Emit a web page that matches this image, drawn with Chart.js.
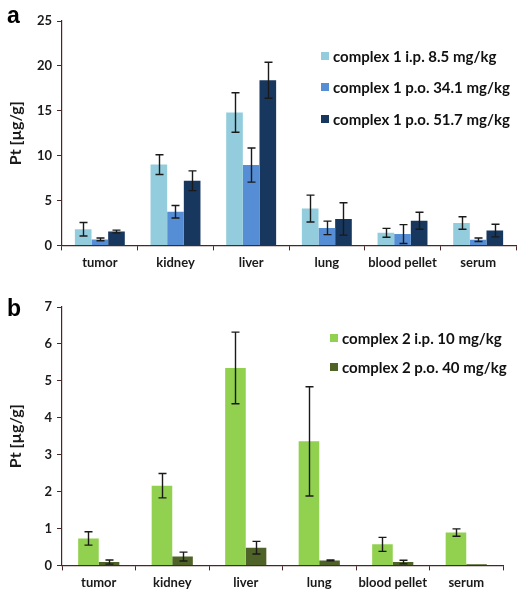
<!DOCTYPE html>
<html>
<head>
<meta charset="utf-8">
<script src="https://cdn.jsdelivr.net/npm/chart.js@4.4.0/dist/chart.umd.min.js"></script>
<style>
  body { margin: 0; background: #fff; }
  #wrap { position: relative; width: 522px; height: 600px; font-family: Lato, sans-serif; }
  canvas { position: absolute; left: 0; }
  .panel { position: absolute; font-family: "Liberation Sans", Arial, sans-serif; font-weight: bold; font-size: 23px; line-height: 23px; color: #000; }
  .leg { position: absolute; display: flex; align-items: center; height: 16px; font-weight: bold; font-size: 15px; color: #111; white-space: nowrap; }
  .leg span.box { display: inline-block; width: 8px; height: 8px; margin-right: 4px; }
</style>
</head>
<body>
<div id="wrap">
  <canvas id="chartA" width="522" height="300" style="top:0"></canvas>
  <canvas id="chartB" width="522" height="300" style="top:300px"></canvas>
  <div class="panel" style="left:7px; top:4px">a</div>
  <div class="panel" style="left:7px; top:297px">b</div>
  <div id="legendA"></div>
  <div id="legendB"></div>
</div>
<script>
const categories = ['tumor', 'kidney', 'liver', 'lung', 'blood pellet', 'serum'];

// panel a, complex 1
const c1ip = [1.8, 9.0, 14.8, 4.1, 1.4, 2.5];
const c1ipErr = [0.75, 1.1, 2.2, 1.5, 0.5, 0.7];
const c1po34 = [0.67, 3.75, 8.95, 1.95, 1.27, 0.63];
const c1po34Err = [0.15, 0.7, 1.9, 0.75, 1.05, 0.2];
const c1po51 = [1.55, 7.2, 18.4, 2.95, 2.75, 1.65];
const c1po51Err = [0.15, 1.1, 2.0, 1.8, 0.95, 0.7];

// panel b, complex 2
const c2ip = [0.73, 2.16, 5.35, 3.36, 0.57, 0.89];
const c2ipErr = [0.18, 0.33, 0.97, 1.48, 0.19, 0.1];
const c2po = [0.09, 0.24, 0.48, 0.135, 0.09, 0.03];
const c2poErr = [0.055, 0.12, 0.17, 0.01, 0.05, 0];

const axisColor = '#4a2626';
const tickFont = { family: 'Lato', size: 13, weight: 'bold' };

// draws the +/- error bars over every bar
const errorBars = {
    id: 'errorBars',
    afterDatasetsDraw(chart) {
        const ctx = chart.ctx;
        const y = chart.scales.y;
        ctx.save();
        ctx.strokeStyle = '#1a1a1a';
        ctx.lineWidth = 1.4;
        chart.data.datasets.forEach((ds, i) => {
            const meta = chart.getDatasetMeta(i);
            meta.data.forEach((bar, j) => {
                const v = ds.data[j];
                const e = ds.errors[j];
                if (!e) return;
                const top = y.getPixelForValue(v + e);
                const bot = y.getPixelForValue(v - e);
                const x = Math.round(bar.x) + 0.5;
                ctx.beginPath();
                ctx.moveTo(x, top); ctx.lineTo(x, bot);
                ctx.moveTo(x - 4, top); ctx.lineTo(x + 4, top);
                ctx.moveTo(x - 4, bot); ctx.lineTo(x + 4, bot);
                ctx.stroke();
            });
        });
        ctx.restore();
    }
};

function makeChart(id, datasets, max, catPct, padding) {
    new Chart(document.getElementById(id), {
        type: 'bar',
        data: { labels: categories, datasets: datasets },
        options: {
            responsive: false,
            animation: false,
            layout: { padding: padding },
            datasets: { bar: { barPercentage: 1, categoryPercentage: catPct } },
            plugins: { legend: { display: false }, tooltip: { enabled: false } },
            scales: {
                x: {
                    afterFit(scale) { scale.paddingLeft = 0; scale.paddingRight = 0; },
                    grid: { drawOnChartArea: false, color: axisColor, tickLength: 5 },
                    border: { color: axisColor, width: 1.2 },
                    ticks: { color: '#1a1a1a', font: tickFont, padding: 5, maxRotation: 0, autoSkip: false }
                },
                y: {
                    min: 0,
                    max: max,
                    afterFit(scale) { scale.width = 62; scale.paddingTop = 0; scale.paddingBottom = 0; },
                    grid: { drawOnChartArea: false, color: axisColor, tickLength: 5 },
                    border: { color: axisColor, width: 1.2 },
                    ticks: { stepSize: max > 10 ? 5 : 1, color: '#1a1a1a', font: tickFont, padding: 5 },
                    title: {
                        display: true,
                        text: 'Pt [µg/g]',
                        color: '#1a1a1a',
                        font: { family: 'Lato', size: 16, weight: 'bold' },
                        padding: { top: 6, bottom: 0 }
                    }
                }
            }
        },
        plugins: [errorBars]
    });
}

const setA = [
    { label: 'complex 1 i.p. 8.5 mg/kg', data: c1ip, errors: c1ipErr, backgroundColor: '#93cddd' },
    { label: 'complex 1 p.o. 34.1 mg/kg', data: c1po34, errors: c1po34Err, backgroundColor: '#558ed5' },
    { label: 'complex 1 p.o. 51.7 mg/kg', data: c1po51, errors: c1po51Err, backgroundColor: '#17375e' }
];
const setB = [
    { label: 'complex 2 i.p. 10 mg/kg', data: c2ip, errors: c2ipErr, backgroundColor: '#92d050' },
    { label: 'complex 2 p.o. 40 mg/kg', data: c2po, errors: c2poErr, backgroundColor: '#4f6228' }
];

makeChart('chartA', setA, 25, 0.66, { top: 21, right: 6, bottom: 24, left: 0 });
makeChart('chartB', setB, 7, 0.56, { top: 7, right: 19, bottom: 4, left: 0 });

function htmlLegend(el, sets, left, tops) {
    sets.forEach((ds, i) => {
        const d = document.createElement('div');
        d.className = 'leg';
        d.style.left = left + 'px';
        d.style.top = tops[i] + 'px';
        d.innerHTML = '<span class="box" style="background:' + ds.backgroundColor + '"></span>' + ds.label;
        el.appendChild(d);
    });
}
htmlLegend(document.getElementById('legendA'), setA, 321, [48, 79, 111]);
htmlLegend(document.getElementById('legendB'), setB, 330, [330, 359]);
</script>
</body>
</html>
